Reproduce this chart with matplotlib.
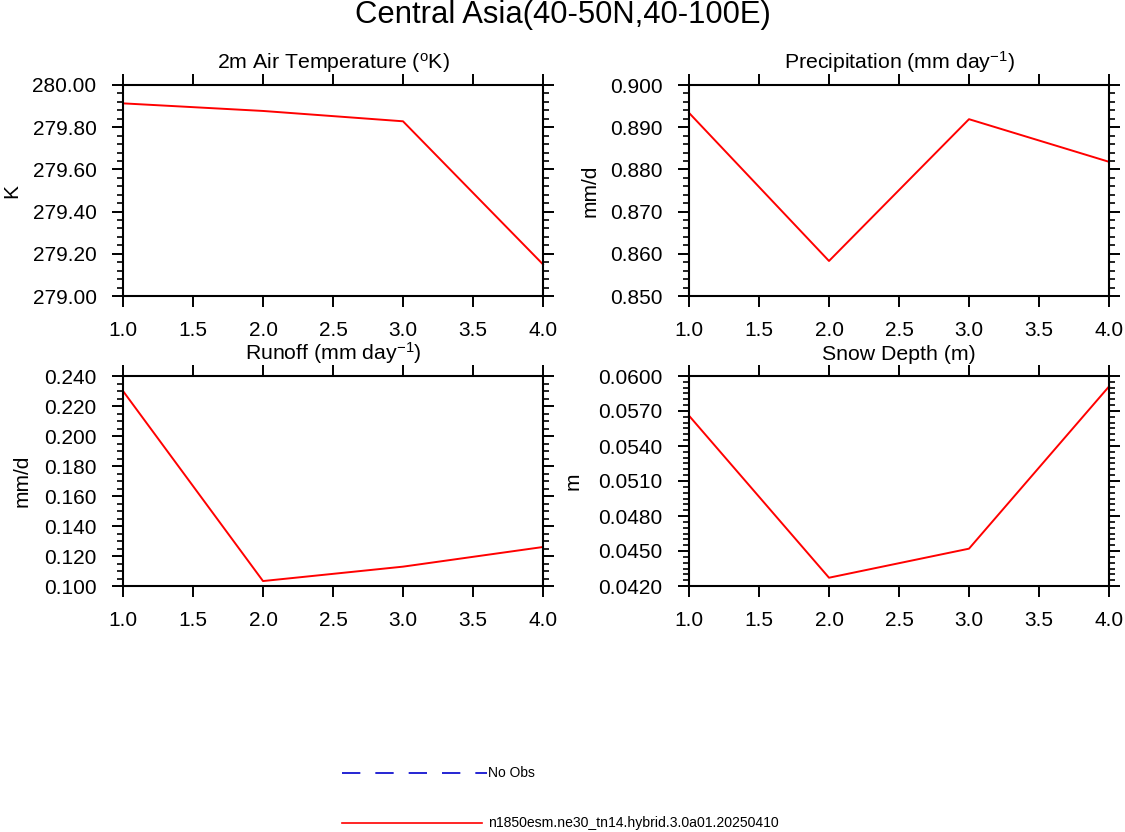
import matplotlib
matplotlib.use("Agg")
import matplotlib.pyplot as plt
from matplotlib.lines import Line2D
from matplotlib.ticker import MultipleLocator, FormatStrFormatter, AutoMinorLocator

plt.rcParams['font.family'] = ['Liberation Sans', 'DejaVu Sans']
plt.rcParams['mathtext.fontset'] = 'custom'
plt.rcParams['mathtext.rm'] = 'Liberation Sans'
plt.rcParams['mathtext.it'] = 'Liberation Sans:italic'

# ---- data ----
x_vals = [1.0, 2.0, 3.0, 4.0]
temp_vals = [279.913, 279.877, 279.828, 279.150]
precip_vals = [0.8934, 0.8583, 0.8919, 0.8818]
runoff_vals = [0.2300, 0.1033, 0.1129, 0.1260]
snow_vals = [0.0566, 0.04271, 0.0452, 0.0591]

main_title = "Central Asia(40-50N,40-100E)"
panel_titles = [r"2m Air Temperature ($\mathregular{^o}$K)",
                r"Precipitation (mm day$\mathregular{^{-1}}$)",
                r"Runoff (mm day$\mathregular{^{-1}}$)",
                "Snow Depth (m)"]
y_labels = ["K", "mm/d", "mm/d", "m"]
y_ranges = [(279.0, 280.0), (0.850, 0.900), (0.100, 0.240), (0.0420, 0.0600)]
y_major = [0.2, 0.01, 0.02, 0.003]
y_minor_n = [5, 5, 4, 6]
y_fmt = ["%.2f", "%.3f", "%.3f", "%.4f"]
series = [temp_vals, precip_vals, runoff_vals, snow_vals]
legend_labels = ["No Obs", "n1850esm.ne30_tn14.hybrid.3.0a01.20250410"]

W, H = 1125, 832
fig = plt.figure(figsize=(W / 100, H / 100), dpi=100)

# axes boxes in pixel coordinates (left, top, right, bottom)
boxes = [(123, 85, 543, 296), (689, 85, 1109, 296),
         (123, 376, 543, 586), (689, 376, 1109, 586)]
ylabel_x = [-0.264, -0.236, -0.24, -0.276]

for i, (l, t, r, b) in enumerate(boxes):
    ax = fig.add_axes([l / W, 1 - b / H, (r - l) / W, (b - t) / H])
    ax.plot(x_vals, series[i], color='red', lw=1.4, clip_on=False)
    ax.set_xlim(1.0, 4.0)
    ax.set_ylim(*y_ranges[i])
    ax.xaxis.set_major_locator(MultipleLocator(0.5))
    ax.xaxis.set_major_formatter(FormatStrFormatter("%.1f"))
    ax.yaxis.set_major_locator(MultipleLocator(y_major[i]))
    ax.yaxis.set_minor_locator(AutoMinorLocator(y_minor_n[i]))
    ax.yaxis.set_major_formatter(FormatStrFormatter(y_fmt[i]))
    ax.tick_params(axis='both', which='both', direction='out',
                   top=True, right=True, labelsize=15)
    ax.tick_params(axis='both', which='major', length=8, width=1.4)
    ax.tick_params(axis='y', which='minor', length=4, width=1.2)
    ax.tick_params(axis='y', which='major', pad=11)
    ax.tick_params(axis='x', which='major', pad=10)
    for s in ax.spines.values():
        s.set_linewidth(1.5)
    ax.text(0.5, 1.075, panel_titles[i], transform=ax.transAxes,
            ha='center', va='baseline', fontsize=15.3)
    ax.text(ylabel_x[i], 0.5, y_labels[i], transform=ax.transAxes,
            ha='center', va='center', rotation=90, fontsize=15)

fig.text(0.5, 1 - 15 / H, main_title, ha='center', va='center', fontsize=22.3)

# legend (figure-level)
fig.add_artist(Line2D([342 / W, 487 / W], [1 - 773 / H] * 2, transform=fig.transFigure,
                      color='#0000cc', lw=1.2, dashes=(11, 9)))
fig.text(488 / W, 1 - 773 / H, legend_labels[0], ha='left', va='center', fontsize=10)
fig.add_artist(Line2D([342 / W, 482 / W], [1 - 823 / H] * 2, transform=fig.transFigure,
                      color='red', lw=1.2))
fig.text(488 / W, 1 - 823 / H, legend_labels[1], ha='left', va='center', fontsize=10.1)

fig.savefig("out.png", dpi=100)
